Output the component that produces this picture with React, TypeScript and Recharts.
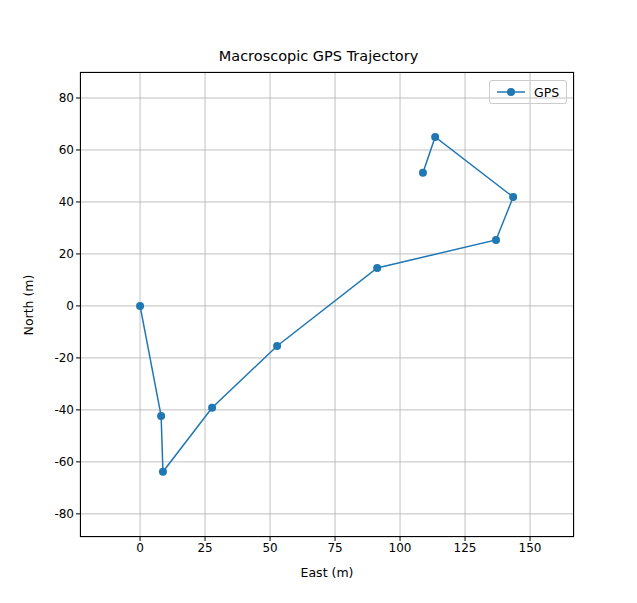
import { ScatterChart, Scatter, XAxis, YAxis, CartesianGrid } from "recharts";

const east = [0, 8.1, 8.8, 27.7, 52.7, 91.2, 136.9, 143.5, 113.5, 108.8];
const north = [0, -42.3, -63.8, -39.2, -15.4, 14.6, 25.4, 41.9, 65, 51.2];
const xTicks = [0, 25, 50, 75, 100, 125, 150];
const yTicks = [-80, -60, -40, -20, 0, 20, 40, 60, 80];

const points = east.map((x, i) => ({ x, y: north[i] }));
const blue = "#1f77b4";
const font = "DejaVu Sans";

export default function App() {
  return (
    <div style={{ position: "absolute", left: 0, top: 0, width: 637, height: 603, background: "#fff", fontFamily: font }}>
      <ScatterChart width={637} height={603} margin={{ top: 72, right: 63, bottom: 26, left: 30 }}>
        <CartesianGrid stroke="#b0b0b0" strokeWidth={0.8} />
        <XAxis type="number" dataKey="x" domain={[-23.1, 166.9]} ticks={xTicks} height={40}
          tick={{ fill: "#000", fontSize: 12, fontFamily: font }} tickLine={{ stroke: "#000" }} tickSize={4}
          axisLine={false} allowDataOverflow />
        <YAxis type="number" dataKey="y" domain={[-88.9, 90]} ticks={yTicks} width={50}
          tick={{ fill: "#000", fontSize: 12, fontFamily: font }} tickLine={{ stroke: "#000" }} tickSize={4}
          axisLine={false} allowDataOverflow />
        <Scatter data={points} fill={blue} line={{ stroke: blue, strokeWidth: 1.5 }}
          shape={(p: any) => <circle cx={p.cx} cy={p.cy} r={4} fill={blue} />} isAnimationActive={false} />
      </ScatterChart>
      <div style={{ position: "absolute", left: 80, top: 72, width: 494, height: 465, border: "1px solid #000", boxSizing: "border-box", pointerEvents: "none" }} />
      <div style={{ position: "absolute", left: 0, width: 637, top: 48, textAlign: "center", fontSize: 14.5 }}>Macroscopic GPS Trajectory</div>
      <div style={{ position: "absolute", left: 80, width: 494, top: 565, textAlign: "center", fontSize: 12.5 }}>East (m)</div>
      <div style={{ position: "absolute", left: 28, top: 305, fontSize: 12.5, transform: "translate(-50%,-50%) rotate(-90deg)", whiteSpace: "nowrap" }}>North (m)</div>
      <div style={{ position: "absolute", left: 489, top: 80, width: 78, height: 24, border: "1px solid #ccc", borderRadius: 3, boxSizing: "border-box", display: "flex", alignItems: "center", fontSize: 12.5 }}>
        <svg width={34} height={20} style={{ marginLeft: 4 }}>
          <line x1={3} y1={10} x2={31} y2={10} stroke={blue} strokeWidth={1.5} />
          <circle cx={17} cy={10} r={4} fill={blue} />
        </svg>
        <span style={{ marginLeft: 6 }}>GPS</span>
      </div>
    </div>
  );
}
